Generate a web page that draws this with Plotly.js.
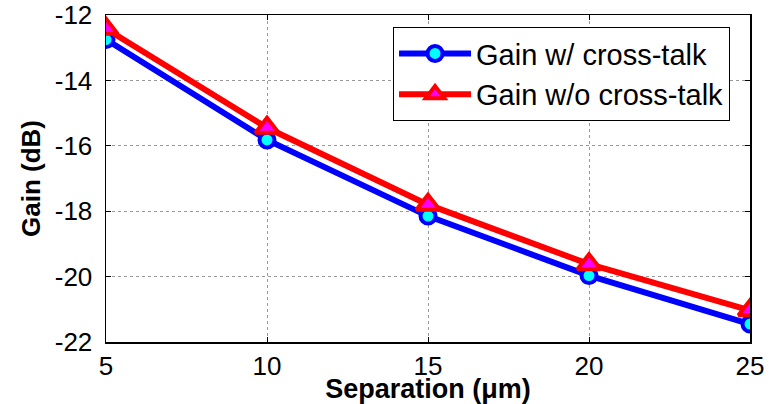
<!DOCTYPE html>
<html><head><meta charset="utf-8">
<script src="https://cdn.plot.ly/plotly-3.0.1.min.js"></script>
<style>html,body{margin:0;padding:0;background:#fff}</style>
</head><body>
<div id="chart" style="width:769px;height:404px"></div>
<script>
const separation = [5, 10, 15, 20, 25];
const gainWithXtalk = [-12.75, -15.82, -18.15, -19.97, -21.45];
const gainWithoutXtalk = [-12.42, -15.45, -17.8, -19.62, -21.03];
const seriesNames = ["Gain w/ cross-talk", "Gain w/o cross-talk"];
const xTicks = [5, 10, 15, 20, 25];
const yTicks = [-22, -20, -18, -16, -14, -12];

const FONT = "Arial, Liberation Sans, sans-serif";

const traces = [
  {x: separation, y: gainWithXtalk, name: seriesNames[0], mode: "lines+markers",
   line: {color: "#0000ff", width: 6},
   marker: {symbol: "circle", size: 15, color: "#00ffff", line: {color: "#0000ff", width: 4}}},
  {x: separation, y: gainWithoutXtalk, name: seriesNames[1], mode: "lines+markers",
   line: {color: "#ff0000", width: 6},
   marker: {symbol: "triangle-up", size: 20, color: "#ff00ff", line: {color: "#ff0000", width: 4}}}
];

const axisCommon = {
  showline: true, linecolor: "#000", linewidth: 1.5, mirror: "ticks",
  ticks: "inside", ticklen: 5, tickcolor: "#000",
  showgrid: true, gridcolor: "#9a9a9a", griddash: "dot", gridwidth: 1,
  zeroline: false,
  tickfont: {family: FONT, size: 26, color: "#000"}
};

const layout = {
  width: 769, height: 404,
  margin: {l: 106, r: 19, t: 15, b: 62},
  paper_bgcolor: "#fff", plot_bgcolor: "#fff",
  showlegend: true,
  legend: {x: 0.4457, y: 0.963, xanchor: "left", yanchor: "top",
    bgcolor: "#fff", bordercolor: "#000", borderwidth: 1,
    font: {family: FONT, size: 29, color: "#000"},
    tracegroupgap: 0, itemwidth: 72},
  xaxis: Object.assign({}, axisCommon, {
    range: [5, 25], tickvals: xTicks, ticktext: xTicks.map(String),
    ticklabelstandoff: 0,
    title: {text: "<b>Separation (μm)</b>", standoff: 1,
      font: {family: FONT, size: 27, color: "#000"}},
    automargin: false
  }),
  yaxis: Object.assign({}, axisCommon, {
    range: [-22, -12], tickvals: yTicks, ticktext: yTicks.map(String),
    ticklabelstandoff: 7,
    title: {text: "<b>Gain (dB)</b>", standoff: 6,
      font: {family: FONT, size: 26, color: "#000"}},
    automargin: false
  })
};

Plotly.newPlot("chart", traces, layout, {displayModeBar: false, staticPlot: true});
</script>
</body></html>
